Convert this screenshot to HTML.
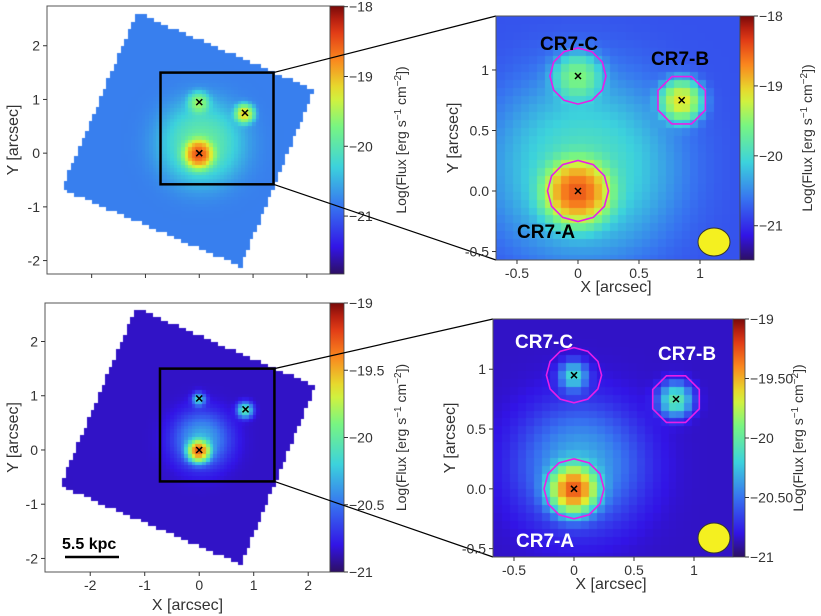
<!DOCTYPE html>
<html><head><meta charset="utf-8">
<style>
html,body{margin:0;padding:0;background:#fff;}
#wrap{position:relative;width:821px;height:616px;overflow:hidden;font-family:"Liberation Sans",sans-serif;}
canvas{position:absolute;left:0;top:0;}
svg{position:absolute;left:0;top:0;}
text{font-family:"Liberation Sans",sans-serif;}
</style></head><body>
<div id="wrap">
<canvas id="cv" width="821" height="616"></canvas>
<svg id="sv" width="821" height="616"></svg>
</div>
<script>
// ---- data ----
const sourceNames = ["CR7-A","CR7-B","CR7-C"];
const sourceX = [0, 0.85, 0];
const sourceY = [0, 0.75, 0.95];
const topPeak = [-18.5, -19.1, -19.6];
const topSigma = [0.12, 0.08, 0.1];
const topHalo = [-19.95, 0.4];
const topBg = -20.8;
const botPeak = [-19.3, -20.1, -20.25];
const botSigma = [0.1, 0.08, 0.07];
const botHalo = [-20.45, 0.3];
const botBg = -20.85;
const apertureR = [0.25, 0.21, 0.23];
const footX = [-1.15, 2.11, 0.76, -2.54];
const footY = [2.6, 1.17, -2.09, -0.65];
const topCbTicks = [-18, -19, -20, -21];
const topCbLabels = ["−18", "−19", "−20", "−21"];
const botCbTicks = [-19, -19.5, -20, -20.5, -21];
const botCbLabelsL = ["−19", "−19.5", "−20", "−20.5", "−21"];
const botCbLabelsR = ["−19", "−19.50", "−20", "−20.50", "−21"];
const wideTicks = [-2, -1, 0, 1, 2];
const wideTickLabels = ["-2", "-1", "0", "1", "2"];
const zoomXTicks = [-0.5, 0, 0.5, 1];
const zoomXLabels = ["-0.5", "0", "0.5", "1"];
const zoomYTicks = [-0.5, 0, 0.5, 1];
const zoomYLabels = ["-0.5", "0.0", "0.5", "1"];
const zoomBox = [-0.72, 1.38, -0.58, 1.5];

const panels = [
 {name:"top-wide", px0:47,px1:330,py0:6,py1:274,x0:-2.83,x1:2.43,y0:2.74,y1:-2.25,m:0,vmin:-21.83,vmax:-17.99,foot:true,cb:[330,344],wide:true,xlab:false},
 {name:"top-zoom", px0:496,px1:740,py0:16,py1:260,x0:-0.672,x1:1.328,y0:1.446,y1:-0.57,m:0,vmin:-21.49,vmax:-18,foot:false,cb:[740,754],wide:false},
 {name:"bottom-wide", px0:45,px1:330,py0:303,py1:572,x0:-2.83,x1:2.40,y0:2.71,y1:-2.25,m:1,vmin:-21,vmax:-19,foot:true,cb:[330,344],wide:true,xlab:true},
 {name:"bottom-zoom", px0:493,px1:733,py0:319,py1:557,x0:-0.675,x1:1.325,y0:1.42,y1:-0.57,m:1,vmin:-21,vmax:-19,foot:false,cb:[733,745],wide:false}
];

const cmapStops=[[0,[45,15,100]],[0.1,[50,20,230]],[0.25,[55,115,240]],[0.4,[60,210,220]],[0.55,[120,245,130]],[0.67,[225,240,50]],[0.8,[250,135,30]],[0.92,[220,45,20]],[1,[120,10,10]]];
function jet(t){t=Math.max(0,Math.min(1,t));
 for(let i=1;i<cmapStops.length;i++){if(t<=cmapStops[i][0]){const a=cmapStops[i-1],b=cmapStops[i];const f=(t-a[0])/(b[0]-a[0]);
  return a[1].map((v,k)=>Math.round(v+(b[1][k]-v)*f));}}
 return cmapStops[cmapStops.length-1][1];}
function model(m,x,y){
 const pk=m?botPeak:topPeak, sg=m?botSigma:topSigma, h=m?botHalo:topHalo, bg=m?botBg:topBg;
 let f=Math.pow(10,bg+20);
 for(let i=0;i<3;i++){const r2=(x-sourceX[i])**2+(y-sourceY[i])**2;f+=Math.pow(10,pk[i]+20)*Math.exp(-r2/(2*sg[i]*sg[i]));}
 const r2=(x-0.05)**2+(y-0.2)**2; f+=Math.pow(10,h[0]+20)*Math.exp(-r2/(2*h[1]*h[1]));
 return Math.log10(f)-20;}
function inFoot(x,y){let ins=true;for(let i=0;i<4;i++){const j=(i+1)%4;const cr=(footX[j]-footX[i])*(y-footY[i])-(footY[j]-footY[i])*(x-footX[i]);if(cr>0)ins=false;}return ins;}

const ctx=document.getElementById('cv').getContext('2d');
const NS="http://www.w3.org/2000/svg";const sv=document.getElementById('sv');
function el(tag,attrs,parent){const e=document.createElementNS(NS,tag);for(const k in attrs)e.setAttribute(k,attrs[k]);(parent||sv).appendChild(e);return e;}
function txt(s,attrs,parent){const e=el('text',attrs,parent);e.textContent=s;return e;}

const defs=el('defs',{});const lg=el('linearGradient',{id:'jetg',x1:0,y1:1,x2:0,y2:0},defs);
for(let i=0;i<=20;i++){const c=jet(i/20);el('stop',{offset:(i*5)+'%','stop-color':`rgb(${c})`},lg);}

const cell=0.066;
panels.forEach((p,pi)=>{
 const sx=v=>p.px0+(v-p.x0)/(p.x1-p.x0)*(p.px1-p.px0);
 const sy=v=>p.py0+(v-p.y0)/(p.y1-p.y0)*(p.py1-p.py0);
 const cy=v=>p.py0+(p.vmax-v)/(p.vmax-p.vmin)*(p.py1-p.py0);
 ctx.save();ctx.beginPath();ctx.rect(p.px0,p.py0,p.px1-p.px0,p.py1-p.py0);ctx.clip();
 for(let gx=Math.floor(p.x0/cell)-1;gx*cell<p.x1+cell;gx++){
  for(let gy=Math.floor(p.y1/cell)-1;gy*cell<p.y0+cell;gy++){
   const x=gx*cell+cell/2,y=gy*cell+cell/2;
   if(p.foot&&!inFoot(x,y))continue;
   const v=model(p.m,x,y);const c=jet((v-p.vmin)/(p.vmax-p.vmin));
   ctx.fillStyle=`rgb(${c})`;
   const a=sx(gx*cell),b=sy((gy+1)*cell);
   ctx.fillRect(Math.floor(a),Math.floor(b),Math.ceil(sx((gx+1)*cell)-a)+1,Math.ceil(sy(gy*cell)-b)+1);
  }}
 ctx.restore();
 const g=el('g',{});
 
 
 const fr=el('rect',{x:p.px0,y:p.py0,width:p.px1-p.px0,height:p.py1-p.py0,fill:'none',stroke:'#555','stroke-width':1},g);
 
 const cb=el('rect',{x:p.cb[0],y:p.py0,width:p.cb[1]-p.cb[0],height:p.py1-p.py0,fill:'url(#jetg)',stroke:'#444','stroke-width':0.8},g);
 
 const ct=p.m?botCbTicks:topCbTicks, cl=p.m?(p.wide?botCbLabelsL:botCbLabelsR):topCbLabels;
 ct.forEach((v,i)=>{const y=cy(v);el('line',{x1:p.cb[1],x2:p.cb[1]+4,y1:y,y2:y,stroke:'#333'},g);
  const t=txt(cl[i],{x:p.cb[1]+5,y:y+5,'font-size':14,fill:'#333'},g);
  });
 const lx=p.cb[1]+(p.wide?62:58), lyc=(p.py0+p.py1)/2;
 const cbt=txt('',{x:lx,y:lyc,'font-size':14,fill:'#333','text-anchor':'middle',transform:`rotate(-90 ${lx} ${lyc})`},g);
 cbt.innerHTML='Log(Flux [erg s<tspan dy="-5" font-size="10">−1</tspan><tspan dy="5"> cm</tspan><tspan dy="-5" font-size="10">−2</tspan><tspan dy="5">])</tspan>';
 
 const xt=p.wide?wideTicks:zoomXTicks, xl=p.wide?wideTickLabels:zoomXLabels;
 const yt=p.wide?wideTicks:zoomYTicks, yl=p.wide?wideTickLabels:zoomYLabels;
 xt.forEach((v,i)=>{const x=sx(v);if(x<p.px0||x>p.px1)return;el('line',{x1:x,x2:x,y1:p.py1,y2:p.py1+4,stroke:'#333'},g);
  if(p.wide&&!p.xlab)return;
  const t=txt(xl[i],{x:x,y:p.py1+18,'font-size':14,fill:'#333','text-anchor':'middle'},g);
  });
 yt.forEach((v,i)=>{const y=sy(v);if(y<p.py0||y>p.py1)return;el('line',{x1:p.px0-4,x2:p.px0,y1:y,y2:y,stroke:'#333'},g);
  const t=txt(yl[i],{x:p.px0-7,y:y+5,'font-size':14,fill:'#333','text-anchor':'end'},g);
  });
 const ylx=p.wide?18:p.px0-38;
 const yla=txt('Y [arcsec]',{x:ylx,y:lyc,'font-size':16,fill:'#333','text-anchor':'middle',transform:`rotate(-90 ${ylx} ${lyc})`},g);
 
 if(!p.wide||p.xlab){const xla=txt('X [arcsec]',{x:(p.px0+p.px1)/2-(p.wide?0:2),y:p.py1+(p.wide?38:32),'font-size':16,fill:'#333','text-anchor':'middle'},g);
  }
 for(let i=0;i<3;i++){const x=sx(sourceX[i]),y=sy(sourceY[i]);const s=3;
  const mk=el('path',{d:`M${x-s} ${y-s}L${x+s} ${y+s}M${x-s} ${y+s}L${x+s} ${y-s}`,stroke:'#000','stroke-width':1.5},g);
  }
 if(p.wide){
  const bx0=sx(zoomBox[0]),bx1=sx(zoomBox[1]),by0=sy(zoomBox[3]),by1=sy(zoomBox[2]);
  const zb=el('rect',{x:bx0,y:by0,width:bx1-bx0,height:by1-by0,fill:'none',stroke:'#000','stroke-width':2.5},g);
  
  const q=panels[pi+1];
  el('line',{x1:bx1,y1:by0,x2:q.px0,y2:q.py0,stroke:'#000','stroke-width':1.2},g);
  el('line',{x1:bx1,y1:by1,x2:q.px0,y2:q.py1,stroke:'#000','stroke-width':1.2},g);
  if(p.xlab){const sb=txt('5.5 kpc',{x:62,y:549,'font-size':16,'font-weight':'bold',fill:'#000'},g);
   
   const sl=el('line',{x1:65,x2:119,y1:557,y2:557,stroke:'#000','stroke-width':2.5},g);
   }
 } else {
  const ppu=(p.px1-p.px0)/(p.x1-p.x0);
  for(let i=0;i<3;i++){const x=sx(sourceX[i]),y=sy(sourceY[i]),r=apertureR[i]*ppu;const n=i==1?8:12;
   let d='';for(let k=0;k<n;k++){const a=2*Math.PI*k/n+(i==1?Math.PI/8:0);d+=(k?'L':'M')+(x+r*Math.cos(a)).toFixed(1)+' '+(y+r*Math.sin(a)).toFixed(1);}
   const ap=el('path',{d:d+'Z',fill:'none',stroke:'#e81ee8','stroke-width':1.6},g);
   }
  const col=p.m?'#fff':'#000';
  const lab=p.m?[[516,547],[658,360],[515,348]]:[[517,238],[651,65],[540,50]];
  for(let i=0;i<3;i++){const t=txt(sourceNames[i],{x:lab[i][0],y:lab[i][1],'font-size':19,'font-weight':'bold',fill:col},g);
   }
  const bc=p.m?[714,538]:[714,242];
  const bm=el('ellipse',{cx:bc[0],cy:bc[1],rx:16,ry:p.m?15:14,fill:'#f4f020',stroke:'#333','stroke-width':1},g);
  
 }
});
</script>
</body></html>
